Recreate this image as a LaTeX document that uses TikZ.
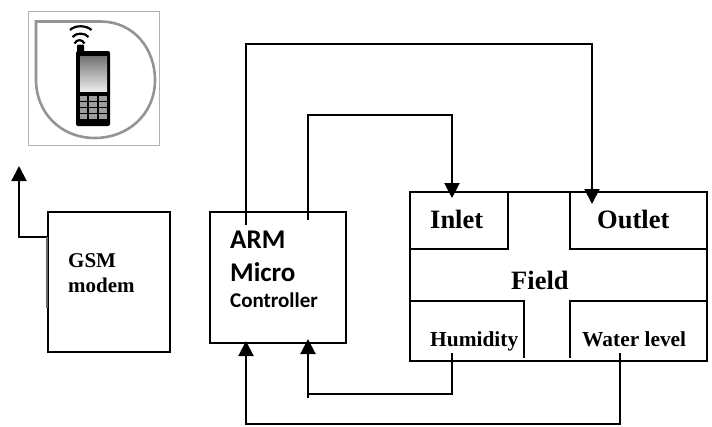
\documentclass[tikz,border=0pt]{standalone}
\usepackage{fontspec}
\setmainfont{Liberation Serif}
\newfontfamily\carl{Carlito}
\usetikzlibrary{arrows.meta}
\begin{document}
\begin{tikzpicture}[x=1pt,y=-1pt,
  box/.style={draw=black,line width=2pt,inner sep=0pt,outer sep=0pt,anchor=north west},
  wire/.style={draw=black,line width=2pt},
  arr/.style={wire,-{Triangle[length=15pt,width=15pt]}},
  lab/.style={inner sep=0pt,anchor=base west,font=\bfseries}]
\useasboundingbox (0,0) rectangle (712,426);
% phone icon
\node[draw=black!30,line width=0.8pt,minimum width=131pt,minimum height=134pt,inner sep=0pt,outer sep=0pt,anchor=north west] (icon) at (28.5,11.5) {};
\draw[black!42,line width=2.6pt] (36,21.5) -- (100,21.5) .. controls (135,21.5) and (155,50) .. (155,80) .. controls (155,115) and (127,138) .. (95,138) .. controls (60,138) and (36,112) .. (36,80) -- cycle;
\fill[black,rounded corners=2pt] (76,51) -- (110,51) -- (110,126) -- (76,126) -- cycle;
\fill[black,rounded corners=1pt] (77,44.5) rectangle (84,54);
\shade[top color=black!55,bottom color=black!8] (80,56) rectangle (107,91);
\foreach \cx/\cw in {80/7,89/8,99/8}{\foreach \cy in {96,102,108,114}{\fill[black!38] (\cx,\cy) rectangle ++(\cw,4.6);}}
\draw[black,line width=2.2pt] (74.5,43.5) .. controls (77,39) and (82,39) .. (84.5,43.5);
\draw[black,line width=2.2pt] (72.5,37) .. controls (76,32.5) and (85,32.5) .. (88.5,37);
\draw[black,line width=2.2pt] (70,30) .. controls (75,25) and (86,25) .. (91.5,30);
% boxes
\node[box,minimum width=122pt,minimum height=140pt] (gsm) at (48,212) {};
\node[box,minimum width=136pt,minimum height=131pt] (arm) at (210,212) {};
\node[box,minimum width=297pt,minimum height=169pt] (field) at (410,192) {};
% field partitions
\coordinate (a1) at (410,249); \coordinate (a2) at (508,249); \coordinate (a3) at (508,192);
\coordinate (b1) at (570,192); \coordinate (b2) at (570,249); \coordinate (b3) at (707,249);
\coordinate (c1) at (410,301); \coordinate (c2) at (524,301); \coordinate (c3) at (524,358);
\coordinate (d1) at (570,358); \coordinate (d2) at (570,301); \coordinate (d3) at (707,301);
\draw[wire] (a1) -- (a2) -- (a3);
\draw[wire] (b1) -- (b2) -- (b3);
\draw[wire] (c1) -- (c2) -- (c3);
\draw[wire] (d1) -- (d2) -- (d3);
% labels
\node[lab,font=\bfseries\fontsize{21}{21}\selectfont] (gsmt1) at (68,267) {GSM};
\node[lab,font=\bfseries\fontsize{21}{21}\selectfont] (gsmt2) at (68,292) {modem};
\node[lab,font=\carl\bfseries\fontsize{27}{27}\selectfont] (armt1) at (230,248) {ARM};
\node[lab,font=\carl\bfseries\fontsize{27}{27}\selectfont] (armt2) at (230,281) {Micro};
\node[lab,font=\carl\bfseries\fontsize{21}{21}\selectfont] (armt3) at (230,307) {Controller};
\node[lab,font=\bfseries\fontsize{26.5}{26.5}\selectfont] (inlet) at (430,228) {Inlet};
\node[lab,font=\bfseries\fontsize{26.5}{26.5}\selectfont] (outlet) at (597,228) {Outlet};
\node[lab,font=\bfseries\fontsize{26.5}{26.5}\selectfont] (ftext) at (511,289) {Field};
\node[lab,font=\bfseries\fontsize{21.4}{21.4}\selectfont] (hum) at (430,346) {Humidity};
\node[lab,font=\bfseries\fontsize{21.4}{21.4}\selectfont] (wat) at (582,346) {Water level};
% connectors
\coordinate (gsmout) at (48,237); \coordinate (gsmup) at (19,166);
\coordinate (arm1) at (246,225); \coordinate (arm2) at (308,220);
\coordinate (armin1) at (246,341); \coordinate (armin2) at (308,339);
\coordinate (outin) at (592,204); \coordinate (inin) at (452,198);
\coordinate (humout) at (452,353); \coordinate (watout) at (620,353);
\draw[arr] (gsmout) -- (19,237) -- (gsmup);
\draw[black!60,line width=2pt] (47,237) -- (47,308);
\draw[arr] (arm1) -- (246,44) -- (592,44) -- (outin);
\draw[arr] (arm2) -- (308,115) -- (452,115) -- (inin);
\draw[arr] (308,398) -- (armin2);
\draw[wire] (308,394) -- (452,394) -- (humout);
\draw[arr] (watout) -- (620,424) -- (246,424) -- (armin1);
\end{tikzpicture}
\end{document}
